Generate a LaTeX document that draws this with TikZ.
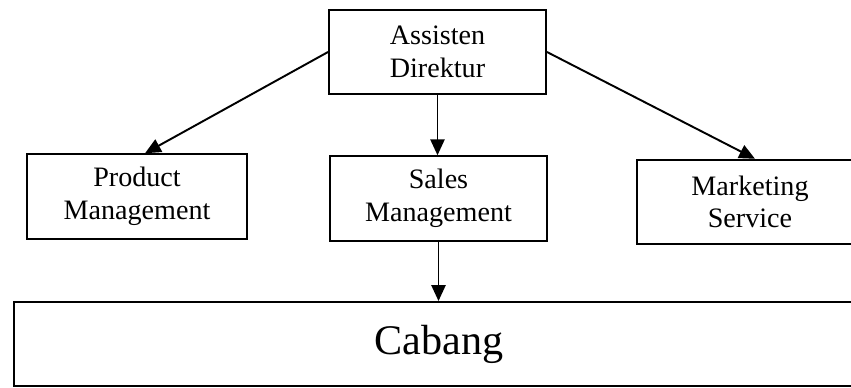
\documentclass[tikz,border=0pt]{standalone}
\usepackage{fontspec}
\setmainfont{Liberation Serif}
\usetikzlibrary{arrows.meta}
\begin{document}
\begin{tikzpicture}[
  box/.style={draw, line width=1.1pt, minimum height=1.69cm, align=center,
    font=\fontsize{16}{18.5}\selectfont},
  arr/.style={line width=1.1pt, -{Triangle[length=9pt,width=8pt]}}]
\useasboundingbox (0,0) rectangle (17.02,7.76);
\node[box, minimum width=4.34cm] (ad) at (8.75,6.72) {Assisten\\Direktur};
\node[box, minimum width=4.4cm] (pm) at (2.74,3.83) {Product\\Management};
\node[box, minimum width=4.34cm] (sm) at (8.77,3.79) {Sales\\Management};
\node[box, minimum width=4.52cm] (ms) at (15.0,3.72) {Marketing\\Service};
\node[box, minimum width=17.0cm, minimum height=1.68cm,
  font=\fontsize{24}{28}\selectfont] (cb) at (8.78,0.88) {Cabang};
\draw[arr] (ad.west) -- ([xshift=0.16cm]pm.north);
\draw[arr] (ad.south) -- (ad.south |- sm.north);
\draw[arr] (ad.east) -- ([xshift=0.1cm]ms.north);
\draw[arr] (sm.south) -- (sm.south |- cb.north);
\end{tikzpicture}
\end{document}
